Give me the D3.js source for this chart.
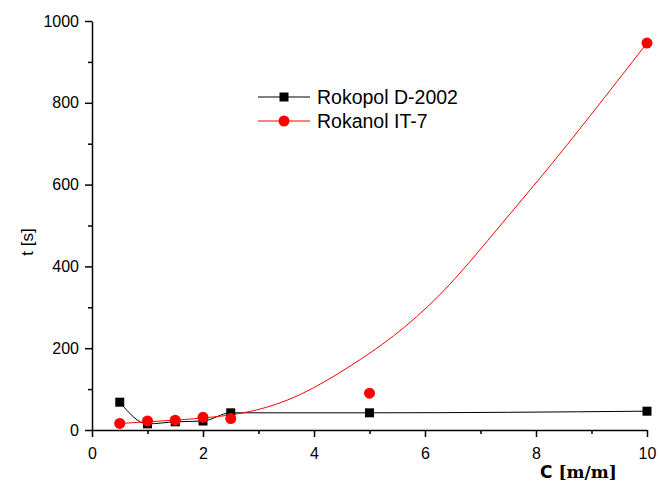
<!DOCTYPE html>
<html>
<head>
<meta charset="utf-8">
<script src="https://cdn.jsdelivr.net/npm/d3@7"></script>
<style>
  body { margin: 0; background: #fff; }
  text { font-family: "Liberation Sans", Arial, sans-serif; }
</style>
</head>
<body>
<svg id="svg"></svg>
<script>
// measured points
var concC = [0.5, 1, 1.5, 2, 2.5, 5, 10];
var rokopolT = [68, 15, 20, 22, 42, 42, 46];
var rokanolT = [16, 22, 24, 31, 28, 90, 946];

// fit line of Rokanol IT-7
var fitC = [0.5, 1, 1.5, 2, 2.85, 3.75, 4.65, 5.42, 6.27, 6.99, 7.59, 8.2, 8.92, 10];
var fitT = [16, 20, 24, 29, 41, 81, 155, 225, 326, 440, 538, 636, 758, 946];

var xTicks = [0, 2, 4, 6, 8, 10];
var yTicks = [0, 200, 400, 600, 800, 1000];
var seriesNames = ["Rokopol D-2002", "Rokanol IT-7"];

var width = 659, height = 487;
var svg = d3.select("#svg").attr("width", width).attr("height", height);

var xScale = d3.scaleLinear().domain([0, 10]).range([92, 647]);
var yScale = d3.scaleLinear().domain([0, 1000]).range([430, 21]);

var rokopol = concC.map((c, i) => ({c: c, t: rokopolT[i]}));
var rokanol = concC.map((c, i) => ({c: c, t: rokanolT[i]}));
var fit = fitC.map((c, i) => ({c: c, t: fitT[i]}));

// minor ticks
svg.append("g")
    .attr("transform", "translate(0,430)")
    .call(d3.axisBottom(xScale).tickValues([1, 3, 5, 7, 9]).tickSize(4).tickSizeOuter(0).tickFormat(""))
    .call(g => g.select(".domain").remove());
svg.append("g")
    .attr("transform", "translate(92,0)")
    .call(d3.axisLeft(yScale).tickValues([100, 300, 500, 700, 900]).tickSize(4).tickSizeOuter(0).tickFormat(""))
    .call(g => g.select(".domain").remove());

// main axes
var xAxis = svg.append("g")
    .attr("transform", "translate(0,430)")
    .call(d3.axisBottom(xScale).tickValues(xTicks).tickSize(7).tickSizeOuter(0).tickPadding(11).tickFormat(d3.format("d")));
var yAxis = svg.append("g")
    .attr("transform", "translate(92,0)")
    .call(d3.axisLeft(yScale).tickValues(yTicks).tickSize(7).tickSizeOuter(0).tickPadding(6).tickFormat(d3.format("d")));

[xAxis, yAxis].forEach(a => {
    a.selectAll("text").attr("font-size", 16).attr("font-family", "Liberation Sans, Arial, sans-serif").attr("fill", "#000");
});
svg.selectAll(".domain, .tick line").attr("stroke", "#000").attr("stroke-width", 1.5);

// axis titles
svg.append("text")
    .attr("transform", "translate(33,242) rotate(-90)")
    .attr("text-anchor", "middle")
    .attr("font-size", 17)
    .text("t [s]");

var xt = svg.append("text")
    .attr("x", 540).attr("y", 478)
    .attr("font-size", 17)
    .attr("font-weight", "bold");
xt.append("tspan").attr("font-family", "DejaVu Sans").text("C ");
xt.append("tspan").attr("font-family", "DejaVu Serif").text("[m/m]");

// lines
svg.append("path")
    .datum(rokopol)
    .attr("fill", "none")
    .attr("stroke", "#000")
    .attr("stroke-width", 1)
    .attr("d", d3.line().curve(d3.curveMonotoneX).x(d => xScale(d.c)).y(d => yScale(d.t)));

svg.append("path")
    .datum(fit)
    .attr("fill", "none")
    .attr("stroke", "#ff0000")
    .attr("stroke-width", 1)
    .attr("d", d3.line().curve(d3.curveBasis).x(d => xScale(d.c)).y(d => yScale(d.t)));

// markers
svg.append("g").selectAll("rect")
    .data(rokopol)
    .join("rect")
    .attr("x", d => xScale(d.c) - 4.5)
    .attr("y", d => yScale(d.t) - 4.5)
    .attr("width", 9).attr("height", 9)
    .attr("fill", "#000");

svg.append("g").selectAll("circle")
    .data(rokanol)
    .join("circle")
    .attr("cx", d => xScale(d.c))
    .attr("cy", d => yScale(d.t))
    .attr("r", 5.5)
    .attr("fill", "#ff0000");

// legend
var legend = svg.append("g");
var legY = [97, 121];
seriesNames.forEach((name, i) => {
    var color = i == 0 ? "#000" : "#ff0000";
    legend.append("line")
        .attr("x1", 258).attr("x2", 310)
        .attr("y1", legY[i]).attr("y2", legY[i])
        .attr("stroke", color).attr("stroke-width", 1);
    if (i == 0)
        legend.append("rect").attr("x", 279.5).attr("y", legY[i] - 4.5).attr("width", 9).attr("height", 9).attr("fill", color);
    else
        legend.append("circle").attr("cx", 284).attr("cy", legY[i]).attr("r", 5.5).attr("fill", color);
    legend.append("text")
        .attr("x", 317).attr("y", legY[i] + 7)
        .attr("font-size", 19.5)
        .text(name);
});
</script>
</body>
</html>
